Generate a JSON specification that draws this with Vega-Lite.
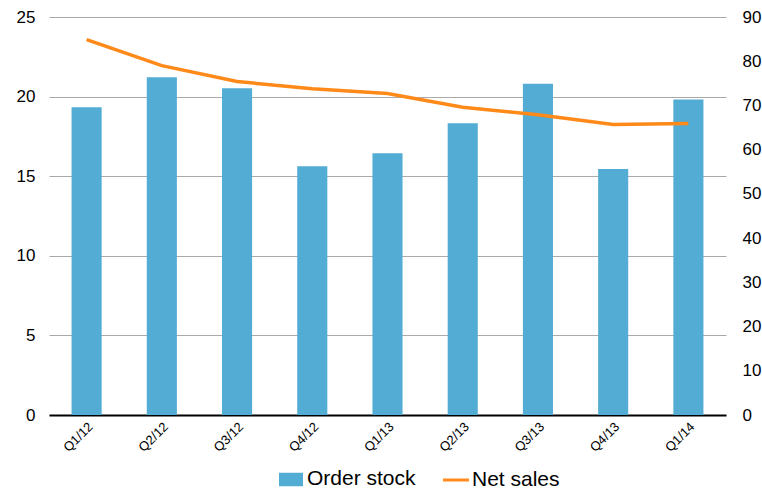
{
  "$schema": "https://vega.github.io/schema/vega-lite/v6.json",
  "width": 677,
  "height": 398,
  "autosize": {"type": "none"},
  "padding": {"left": 49, "top": 17, "right": 36, "bottom": 75},
  "background": "white",
  "config": {
    "view": {"stroke": null},
    "font": "Liberation Sans",
    "axis": {"labelFont": "Liberation Sans", "labelColor": "black"},
    "legend": {"labelFont": "Liberation Sans", "labelColor": "black"}
  },
  "data": {
    "values": [
      {"q": "Q1/12", "order": 19.33, "sales": 84.9},
      {"q": "Q2/12", "order": 21.22, "sales": 79.0},
      {"q": "Q3/12", "order": 20.53, "sales": 75.4},
      {"q": "Q4/12", "order": 15.62, "sales": 73.8},
      {"q": "Q1/13", "order": 16.44, "sales": 72.7},
      {"q": "Q2/13", "order": 18.33, "sales": 69.6},
      {"q": "Q3/13", "order": 20.8, "sales": 67.9},
      {"q": "Q4/13", "order": 15.45, "sales": 65.7},
      {"q": "Q1/14", "order": 19.81, "sales": 65.9}
    ]
  },
  "encoding": {
    "x": {
      "field": "q",
      "type": "ordinal",
      "sort": null,
      "scale": {"paddingInner": 0.6, "paddingOuter": 0.3},
      "axis": {
        "title": null,
        "labelAngle": -45,
        "labelFontSize": 13,
        "labelPadding": 5,
        "ticks": false,
        "grid": false,
        "domainColor": "black",
        "domainWidth": 2
      }
    }
  },
  "layer": [
    {
      "mark": {"type": "bar"},
      "encoding": {
        "y": {
          "field": "order",
          "type": "quantitative",
          "scale": {"domain": [0, 25], "nice": false},
          "axis": {
            "title": null,
            "orient": "left",
            "values": [0, 5, 10, 15, 20, 25],
            "labelFontSize": 17,
            "labelPadding": 14,
            "ticks": false,
            "domain": false,
            "grid": true,
            "gridColor": "#aaaaaa",
            "gridWidth": 1
          }
        },
        "color": {
          "datum": "Order stock",
          "type": "nominal",
          "scale": {"domain": ["Order stock", "Net sales"], "range": ["#52acd4", "#ff8a1a"]},
          "legend": {
            "title": null,
            "orient": "none",
            "legendX": 230,
            "legendY": 450,
            "direction": "horizontal",
            "padding": 0,
            "symbolSize": 441,
            "labelFontSize": 21,
            "labelOffset": 4,
            "columnPadding": 20,
            "encode": {
              "symbols": {
                "update": {
                  "shape": {"signal": "datum.value === 'Net sales' ? 'M-1.24,0H1.24' : 'M-1,-0.5H1V0.5H-1Z'"},
                  "fill": {"signal": "datum.value === 'Net sales' ? 'transparent' : '#52acd4'"},
                  "stroke": {"signal": "datum.value === 'Net sales' ? '#ff8a1a' : 'transparent'"},
                  "strokeWidth": {"value": 3},
                  "opacity": {"value": 1}
                }
              }
            }
          }
        }
      }
    },
    {
      "mark": {"type": "line", "strokeWidth": 3.5},
      "encoding": {
        "y": {
          "field": "sales",
          "type": "quantitative",
          "scale": {"domain": [0, 90], "nice": false},
          "axis": {
            "title": null,
            "orient": "right",
            "values": [0, 10, 20, 30, 40, 50, 60, 70, 80, 90],
            "labelFontSize": 17,
            "labelPadding": 16,
            "ticks": false,
            "domain": false,
            "grid": false
          }
        },
        "color": {"datum": "Net sales", "type": "nominal"}
      }
    }
  ],
  "resolve": {"scale": {"y": "independent"}, "axis": {"y": "independent"}}
}
